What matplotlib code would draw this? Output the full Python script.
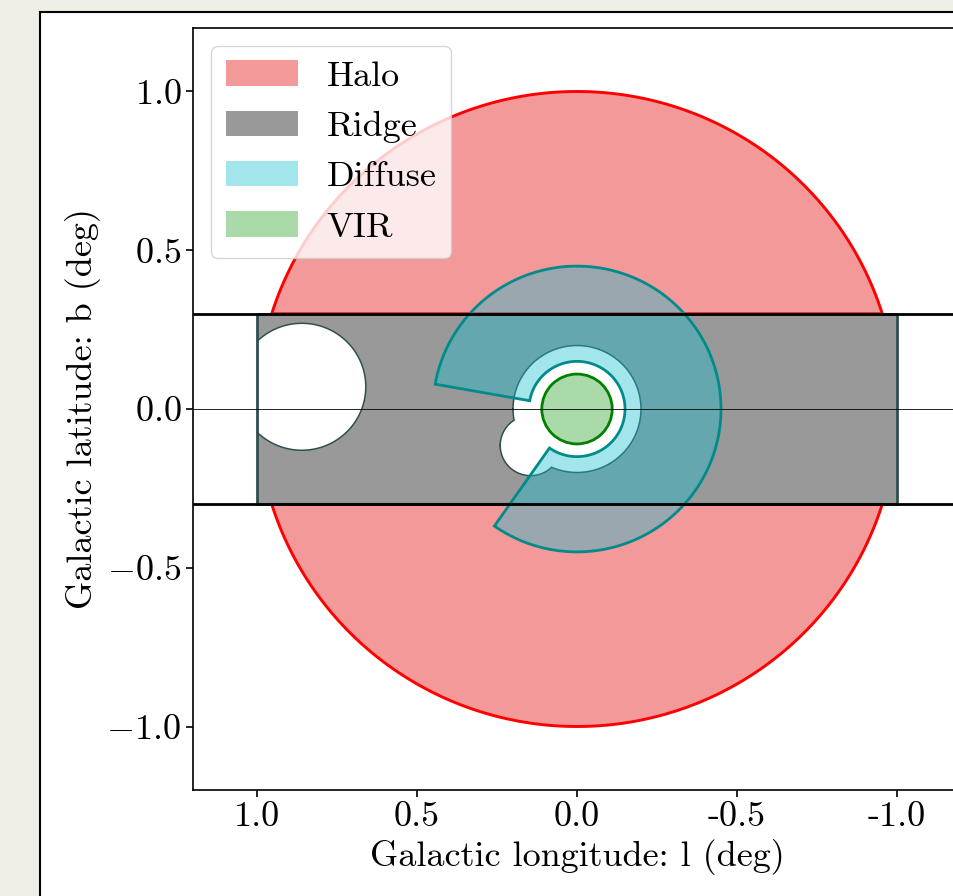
## sky map of the galactic centre analysis regions
# halo / ridge / diffuse / VIR drawn as patches, ridge has holes cut out

import numpy as np
import matplotlib
matplotlib.use("Agg")
import matplotlib.pyplot as plt
from matplotlib.patches import Polygon, Rectangle, Circle, Patch

plt.rcParams['font.family'] = ['cmr10', 'DejaVu Serif']
plt.rcParams['mathtext.fontset'] = 'cm'
plt.rcParams['axes.formatter.use_mathtext'] = True
plt.rcParams['axes.unicode_minus'] = True
FS = 26

# region definitions (deg)
region_names = ['Halo', 'Ridge', 'Diffuse', 'VIR']
halo_r = 1.0
ridge_l = [-1.0, 1.0]
ridge_b = [-0.3, 0.3]
# holes cut out of the ridge: G0.9+0.1, inner disk, G0.13-0.11
hole_l = [0.86, 0.0, 0.145]
hole_b = [0.07, 0.0, -0.115]
hole_r = [0.2, 0.2, 0.095]
diffuse_r = [0.15, 0.45]
diffuse_theta = [10.0, 305.0]   # start / end angle of the annulus sector
vir_r = 0.11

xtick_vals = [1.0, 0.5, 0.0, -0.5, -1.0]
xtick_labels = ['1.0', '0.5', '0.0', '-0.5', '-1.0']
ytick_vals = [-1.0, -0.5, 0.0, 0.5, 1.0]

halo_col = matplotlib.colors.to_rgba('lightcoral', 0.8)
ridge_col = matplotlib.colors.to_rgba('gray', 0.8)
diffuse_col = matplotlib.colors.to_rgba('tab:cyan', 0.4)
vir_col = matplotlib.colors.to_rgba('tab:green', 0.4)

fig = plt.figure(figsize=(9.54, 8.96), dpi=100, facecolor='#efefe6')
# white panel with black border (screenshot frame)
fig.patches.append(Rectangle((40/954, -0.1), 1.2, 0.1 + (1 - 12/896), transform=fig.transFigure,
                             facecolor='white', edgecolor='black', lw=1.5, zorder=-10))

ax = fig.add_axes([193/954, 1 - 790/896, 768/954, 762/896])

# halo = circle minus the ridge band -> two caps
bcut = ridge_b[1]
a0 = np.arcsin(bcut / halo_r)
t = np.linspace(a0, np.pi - a0, 300)
for sgn in [1, -1]:
    pts = np.column_stack([halo_r*np.cos(t), sgn*halo_r*np.sin(t)])
    ax.add_patch(Polygon(pts, closed=True, facecolor=halo_col, edgecolor='red', lw=2.1, zorder=1))

# ridge band
ridge = Rectangle((ridge_l[0], ridge_b[0]), ridge_l[1]-ridge_l[0], ridge_b[1]-ridge_b[0],
                  facecolor=ridge_col, edgecolor='none', zorder=2)
ax.add_patch(ridge)

# holes: white fill (clipped to the band), then only the outer outline of the union
for l0, b0, r0 in zip(hole_l, hole_b, hole_r):
    c = Circle((l0, b0), r0, facecolor='white', edgecolor='none', zorder=2.1)
    ax.add_patch(c)
    c.set_clip_path(ridge)
tt = np.linspace(0, 2*np.pi, 721)
for i in range(len(hole_l)):
    x = hole_l[i] + hole_r[i]*np.cos(tt)
    y = hole_b[i] + hole_r[i]*np.sin(tt)
    keep = (x <= ridge_l[1]) & (x >= ridge_l[0])
    for j in range(len(hole_l)):
        if j != i:
            keep &= (x-hole_l[j])**2 + (y-hole_b[j])**2 > hole_r[j]**2
    ax.plot(np.where(keep, x, np.nan), np.where(keep, y, np.nan), color='darkslategray', lw=1.1, zorder=2.2)

# ridge outline on top of the holes
ax.plot([ridge_l[0], ridge_l[1], ridge_l[1], ridge_l[0], ridge_l[0]],
        [ridge_b[0], ridge_b[0], ridge_b[1], ridge_b[1], ridge_b[0]],
        color='darkslategray', lw=2, zorder=2.3)

# diffuse annulus sector
th = np.radians(np.linspace(diffuse_theta[0], diffuse_theta[1], 400))
outer = np.column_stack([diffuse_r[1]*np.cos(th), diffuse_r[1]*np.sin(th)])
inner = np.column_stack([diffuse_r[0]*np.cos(th[::-1]), diffuse_r[0]*np.sin(th[::-1])])
ax.add_patch(Polygon(np.vstack([outer, inner]), closed=True, facecolor=diffuse_col,
                     edgecolor='darkcyan', lw=2, zorder=3))

# very inner region
ax.add_patch(Circle((0, 0), vir_r, facecolor=vir_col, edgecolor='green', lw=2, zorder=4))

ax.axhline(ridge_b[0], color='black', lw=2, zorder=5)
ax.axhline(ridge_b[1], color='black', lw=2, zorder=5)
ax.axhline(0, color='black', lw=0.6, zorder=5)

ax.set_xlim(1.2, -1.2)
ax.set_ylim(-1.2, 1.2)
ax.set_xticks(xtick_vals)
ax.set_xticklabels(xtick_labels)
ax.set_yticks(ytick_vals)
ax.tick_params(labelsize=FS, length=5, width=1.2)
for s in ax.spines.values():
    s.set_linewidth(1.2)
ax.set_xlabel('Galactic longitude: l (deg)', fontsize=FS)
ax.set_ylabel('Galactic latitude: b (deg)', fontsize=FS)

handles = [Patch(facecolor=c, edgecolor='none', label=n)
           for c, n in zip([halo_col, ridge_col, diffuse_col, vir_col], region_names)]
ax.legend(handles=handles, loc='upper left', fontsize=FS)

plt.savefig('out.png', dpi=100, facecolor=fig.get_facecolor())
